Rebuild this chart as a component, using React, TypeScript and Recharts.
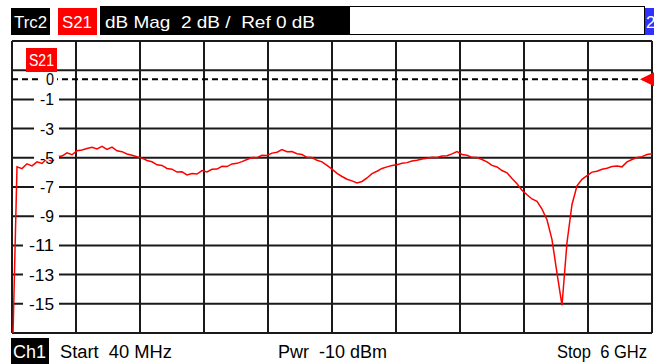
import React from "react";
import { LineChart, Line, XAxis, YAxis, CartesianGrid, ReferenceLine } from "recharts";

// sweep: 40 MHz .. 6 GHz, 129 points
const START_MHZ = 40;
const STOP_MHZ = 6000;

// |S21| in dB
const s21Db = [
  -20.0, -5.62, -5.74, -5.41, -5.55, -5.28, -5.39, -5.06, -5.24, -4.92,
  -4.88, -4.66, -4.79, -4.52, -4.47, -4.36, -4.28, -4.39, -4.22, -4.43,
  -4.27, -4.52, -4.58, -4.74, -4.82, -4.93, -5.02, -5.18, -5.27, -5.48,
  -5.52, -5.73, -5.78, -5.98, -5.96, -6.17, -6.08, -6.11, -5.88, -5.97,
  -5.79, -5.77, -5.58, -5.6, -5.42, -5.38, -5.26, -5.12, -4.98, -4.99,
  -4.83, -4.84, -4.68, -4.62, -4.43, -4.58, -4.57, -4.72, -4.78, -4.97,
  -4.98, -5.17, -5.28, -5.52, -5.78, -6.07, -6.28, -6.47, -6.58, -6.72,
  -6.62, -6.38, -6.08, -5.92, -5.73, -5.62, -5.53, -5.47, -5.38, -5.33,
  -5.22, -5.17, -5.08, -5.03, -4.97, -4.98, -4.88, -4.86, -4.73, -4.58,
  -4.77, -4.83, -4.97, -4.98, -5.12, -5.28, -5.52, -5.63, -5.87, -6.03,
  -6.42, -6.78, -7.22, -7.53, -7.82, -7.98, -8.52, -9.24, -10.6, -12.9,
  -15.1, -10.8, -8.2, -6.92, -6.48, -6.22, -5.98, -5.92, -5.78, -5.72,
  -5.6, -5.56, -5.62, -5.28, -5.12, -4.98, -4.92, -4.78, -4.72,
];

const yTicks = [-17, -15, -13, -11, -9, -7, -5, -3, -1, 1, 3];
const xTicks = [40, 636, 1232, 1828, 2424, 3020, 3616, 4212, 4808, 5404, 6000];

const data = s21Db.map((v, i) => ({
  f: START_MHZ + (i * (STOP_MHZ - START_MHZ)) / (s21Db.length - 1),
  s21: v,
}));

const FONT = "'Liberation Sans Narrow', 'Liberation Sans', Arial, sans-serif";

const dbTick = (props: any) => {
  const { y, payload } = props;
  if (payload.value > -1 || payload.value < -15) return <g />;
  const label = String(payload.value);
  const w = label.length > 2 ? 25 : 14;
  return (
    <g>
      {/* only break the grid line behind the label */}
      <rect x={54 - w - 6} y={y - 2} width={w + 11} height={4} fill="#fff" />
      <text x={54 - w} y={y + 6} fontFamily={FONT} fontSize={16} fill="#000" textLength={w} lengthAdjust="spacingAndGlyphs">
        {label}
      </text>
    </g>
  );
};

const noTick = () => <g />;

const RefMark = (props: any) => {
  const vb = props.viewBox || {};
  const y = vb.y;
  const right = vb.x + vb.width;
  return (
    <g>
      <rect x={42} y={y - 8} width={15} height={16} fill="#fff" />
      <text x={46} y={y + 6} fontFamily={FONT} fontSize={16} fill="#000" textLength={8} lengthAdjust="spacingAndGlyphs">
        0
      </text>
      <polygon points={`${right - 12},${y} ${right + 2},${y - 7} ${right + 2},${y + 7}`} fill="#ff0000" />
    </g>
  );
};

const Header = () => (
  <svg width={654} height={364} style={{ position: "absolute", left: 0, top: 0, pointerEvents: "none" }}>
    <rect x={11} y={8} width={39} height={27} fill="#000" />
    <text x={14} y={28} fill="#fff" fontFamily={FONT} fontSize={17} textLength={33} lengthAdjust="spacingAndGlyphs">Trc2</text>
    <rect x={58} y={8} width={39} height={27} fill="#ff0000" />
    <text x={62} y={28} fill="#fff" fontFamily={FONT} fontSize={17} textLength={30} lengthAdjust="spacingAndGlyphs">S21</text>
    <rect x={100} y={6} width={249} height={29} fill="#000" />
    <text x={105} y={28} fill="#fff" fontFamily={FONT} fontSize={17} textLength={210} lengthAdjust="spacingAndGlyphs" style={{ whiteSpace: "pre" }}>
      dB Mag  2 dB /  Ref 0 dB
    </text>
    <rect x={349.5} y={6.5} width={295} height={28} fill="#fff" stroke="#000" strokeWidth={1} />
    <rect x={645} y={8} width={9} height={27} fill="#3030ff" />
    <text x={646} y={28} fill="#fff" fontFamily={FONT} fontSize={17}>2</text>

    <rect x={26} y={48} width={31} height={24} fill="#ff0000" />
    <text x={29} y={66} fill="#fff" fontFamily={FONT} fontSize={16} textLength={25} lengthAdjust="spacingAndGlyphs">S21</text>

    <rect x={11} y={338} width={38} height={26} fill="#000" />
    <text x={13} y={358} fill="#fff" fontFamily={FONT} fontSize={18} textLength={33} lengthAdjust="spacingAndGlyphs">Ch1</text>
    <text x={60} y={358} fill="#000" fontFamily={FONT} fontSize={18} textLength={112} lengthAdjust="spacingAndGlyphs" style={{ whiteSpace: "pre" }}>
      Start  40 MHz
    </text>
    <text x={278} y={358} fill="#000" fontFamily={FONT} fontSize={18} textLength={109} lengthAdjust="spacingAndGlyphs" style={{ whiteSpace: "pre" }}>
      Pwr  -10 dBm
    </text>
    <text x={557} y={358} fill="#000" fontFamily={FONT} fontSize={18} textLength={90} lengthAdjust="spacingAndGlyphs" style={{ whiteSpace: "pre" }}>
      Stop  6 GHz
    </text>
  </svg>
);

export default function App() {
  return (
    <div style={{ position: "absolute", left: 0, top: 0, width: 654, height: 364, background: "#fff", overflow: "hidden" }}>
      <LineChart width={654} height={364} data={data} margin={{ top: 41, right: 2, bottom: 30, left: 11 }}>
        <CartesianGrid stroke="#1a1a1a" strokeWidth={2} />
        <XAxis
          type="number"
          dataKey="f"
          domain={[START_MHZ, STOP_MHZ]}
          ticks={xTicks}
          interval={0}
          height={1}
          tick={noTick}
          axisLine={false}
          tickLine={false}
        />
        <YAxis
          type="number"
          domain={[-17, 3]}
          ticks={yTicks}
          interval={0}
          allowDataOverflow
          width={1}
          axisLine={false}
          tickLine={false}
          tick={dbTick}
        />
        {/* reference line sits a little above the 0 dB midpoint on the screen */}
        <ReferenceLine y={0.38} stroke="#000" strokeWidth={2} strokeDasharray="6 4" label={<RefMark />} />
        <Line type="linear" dataKey="s21" stroke="#ff0000" strokeWidth={1.5} dot={false} isAnimationActive={false} />
      </LineChart>
      <Header />
    </div>
  );
}
